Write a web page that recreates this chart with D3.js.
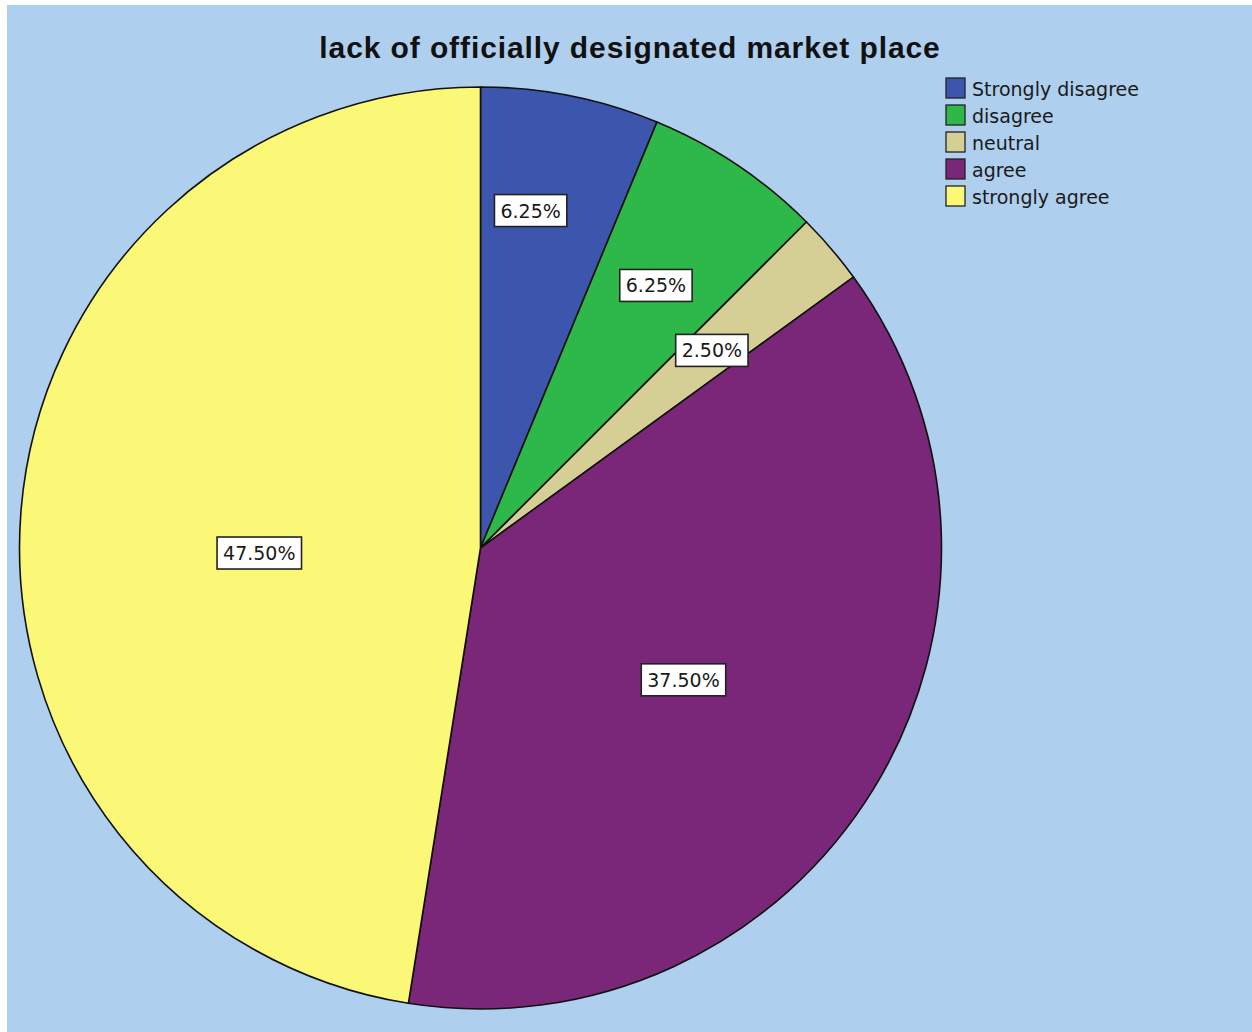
<!DOCTYPE html>
<html>
<head>
<meta charset="utf-8">
<script src="https://cdn.jsdelivr.net/npm/d3@7"></script>
<style>
  html, body { margin: 0; padding: 0; background: #ffffff; }
  svg { display: block; }
</style>
</head>
<body>
<svg id="chart" width="1252" height="1032"></svg>
<script>
// Survey responses: "lack of officially designated market place"
const categories = ["Strongly disagree", "disagree", "neutral", "agree", "strongly agree"];
const percents = [6.25, 6.25, 2.50, 37.50, 47.50];
const sliceColors = ["#3d56ad", "#2eb84a", "#d6cf95", "#7b2779", "#fbf877"];
const titleText = "lack of officially designated market place";

// Label anchors: radius fraction and angle nudge (degrees) per slice
const labelRadius = [0.74, 0.685, 0.66, 0.525, 0.48];
const labelAngleNudge = [-2.8, 0, 0, 1.5, -5.8];

const W = 1252, H = 1032;
const cx = 480.5, cy = 548, R = 461;

const svg = d3.select("#chart");

// panel background
svg.append("rect")
  .attr("x", 7).attr("y", 5)
  .attr("width", W - 7).attr("height", H - 5)
  .attr("fill", "#aecfee");

// title
svg.append("text")
  .attr("x", 630).attr("y", 58)
  .attr("text-anchor", "middle")
  .attr("font-family", "'Liberation Sans', Arial, sans-serif")
  .attr("font-weight", "bold")
  .attr("font-size", 30)
  .attr("letter-spacing", 0.9)
  .attr("fill", "#111")
  .text(titleText);

const data = categories.map((c, i) => ({ category: c, value: percents[i], color: sliceColors[i], i }));

const pie = d3.pie().sort(null).value(d => d.value);
const arcs = pie(data);
const arc = d3.arc().innerRadius(0).outerRadius(R);

const g = svg.append("g").attr("transform", `translate(${cx},${cy})`);

g.selectAll("path.slice")
  .data(arcs)
  .enter().append("path")
  .attr("class", "slice")
  .attr("d", arc)
  .attr("fill", d => d.data.color)
  .attr("stroke", "#111")
  .attr("stroke-width", 1.6)
  .attr("stroke-linejoin", "round");

// value labels in white boxes
const fmt = v => v.toFixed(2) + "%";
const labels = g.selectAll("g.lbl")
  .data(arcs)
  .enter().append("g")
  .attr("class", "lbl")
  .attr("transform", d => {
    const a = (d.startAngle + d.endAngle) / 2 + labelAngleNudge[d.data.i] * Math.PI / 180;
    const r = R * labelRadius[d.data.i];
    return `translate(${r * Math.sin(a)},${-r * Math.cos(a)})`;
  });

labels.each(function(d) {
  const sel = d3.select(this);
  const t = sel.append("text")
    .attr("text-anchor", "middle")
    .attr("dominant-baseline", "central")
    .attr("font-family", "'DejaVu Sans', Verdana, sans-serif")
    .attr("font-size", 19)
    .attr("fill", "#1a1a1a")
    .text(fmt(d.data.value));
  const w = t.node().getComputedTextLength();
  const bw = w + 12, bh = 32;
  sel.insert("rect", "text")
    .attr("x", -bw / 2).attr("y", -bh / 2)
    .attr("width", bw).attr("height", bh)
    .attr("fill", "#ffffff")
    .attr("stroke", "#222")
    .attr("stroke-width", 1.6);
});

// legend
const legend = svg.append("g").attr("transform", "translate(946,78)");
const rows = legend.selectAll("g.row")
  .data(data)
  .enter().append("g")
  .attr("class", "row")
  .attr("transform", (d, i) => `translate(0,${i * 27})`);

rows.append("rect")
  .attr("x", 0).attr("y", 0)
  .attr("width", 19).attr("height", 20)
  .attr("fill", d => d.color)
  .attr("stroke", "#222")
  .attr("stroke-width", 1.3);

rows.append("text")
  .attr("x", 26).attr("y", 11)
  .attr("dominant-baseline", "central")
  .attr("font-family", "'DejaVu Sans', Verdana, sans-serif")
  .attr("font-size", 19)
  .attr("fill", "#1a1a1a")
  .text(d => d.category);
</script>
</body>
</html>
